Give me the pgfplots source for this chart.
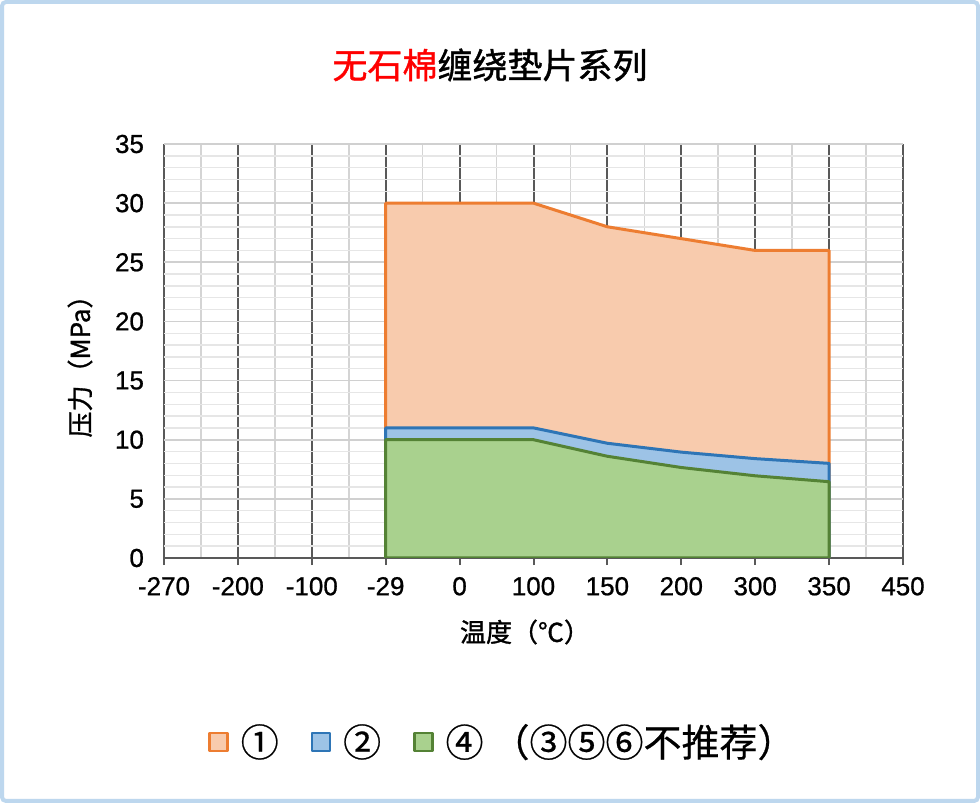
\documentclass[border=0pt]{standalone}
\usepackage{pgfplots}
\pgfplotsset{compat=1.18}
\usepackage{fontspec}
\setmainfont{Liberation Sans}[FakeBold=0.8]
\newfontfamily\cjk{Noto Sans CJK SC}[FakeBold=1.2]
\newfontfamily\cjkl{Noto Sans CJK SC}[FakeBold=0.6]
\definecolor{orLine}{HTML}{ED7D31}
\definecolor{orFill}{HTML}{F8CBAD}
\definecolor{blLine}{HTML}{2E75B6}
\definecolor{blFill}{HTML}{9DC3E6}
\definecolor{grLine}{HTML}{548235}
\definecolor{grFill}{HTML}{A9D18E}
\definecolor{bord}{HTML}{BDD7EE}
\definecolor{gDark}{HTML}{595959}
\definecolor{gLight}{HTML}{D4D4D4}
\definecolor{gMid}{HTML}{D0D0D0}
\definecolor{gFaint}{HTML}{E6E6E6}
\pgfplotsset{sqlegend/.style={legend image code/.code={\draw[##1, line width=1.2pt] (0pt,-4.5pt) rectangle (9pt,4.5pt);}}}
\begin{document}
\begin{tikzpicture}[x=1pt,y=1pt]
\useasboundingbox (0,0) rectangle (490,401.5);
\fill[white] (0,0) rectangle (490,401.5);
\draw[line width=2pt, color=bord, rounded corners=2pt] (1,1) rectangle (489,400.5);
\begin{axis}[
  at={(82pt,122.5pt)}, anchor=south west,
  width=369.5pt, height=207pt, scale only axis,
  xmin=0, xmax=10, ymin=0, ymax=35,
  xtick={0,1,2,3,4,5,6,7,8,9,10},
  xticklabels={-270,-200,-100,-29,0,100,150,200,300,350,450},
  ytick={0,5,10,15,20,25,30,35},
  minor x tick num=1, minor y tick num=4,
  grid=both,
  major x grid style={draw=gDark, line width=1pt},
  minor x grid style={draw=gLight, line width=0.8pt},
  major y grid style={draw=gMid, line width=0.8pt},
  minor y grid style={draw=gFaint, line width=0.7pt},
  axis x line=bottom, axis y line=left,
  x axis line style={-, draw=gDark, line width=1pt},
  y axis line style={draw=none},
  xtick style={draw=gDark, line width=1pt},
  ytick style={draw=none},
  major tick length=3.5pt,
  minor tick length=0pt,
  tick align=outside,
  /pgf/number format/assume math mode=true,
  ticklabel style={font=\fontsize{13}{15}\selectfont, text=black},
  xticklabel style={yshift=-2.5pt},
  yticklabel style={xshift=-3pt},
  legend style={at={(rel axis cs:0.46,-0.444)}, anchor=center, draw=none, fill=none,
    font=\cjkl\fontsize{19}{22}\selectfont, legend columns=3,
    /tikz/every odd column/.style={column sep=4pt},
    /tikz/every even column/.style={column sep=14pt}},
  legend cell align=left,
  every axis plot/.append style={line join=round},
]
\addplot[fill=orFill, draw=orLine, line width=1.5pt, sqlegend]
  coordinates {(3,30)(4,30)(5,30)(6,28)(7,27)(8,26)(9,26)} \closedcycle;
\addlegendentry{①}
\addplot[fill=blFill, draw=blLine, line width=1.5pt, sqlegend]
  coordinates {(3,11)(4,11)(5,11)(6,9.7)(7,8.95)(8,8.4)(9,8.0)} \closedcycle;
\addlegendentry{②}
\addplot[fill=grFill, draw=grLine, line width=1.5pt, sqlegend]
  coordinates {(3,10)(4,10)(5,10)(6,8.6)(7,7.65)(8,6.95)(9,6.45)} \closedcycle;
\addlegendentry{④\hspace{4pt}（③⑤⑥不推荐）}
\end{axis}
\node at (245,369) {\cjk\fontsize{17.5}{20}\selectfont\textcolor{red}{无石棉}缠绕垫片系列};
\node at (262.5,85.5) {\cjk\fontsize{13}{15}\selectfont 温度（℃）};
\node[rotate=90] at (40,221.5) {\cjk\fontsize{13}{15}\selectfont 压力（MPa）};
\end{tikzpicture}
\end{document}
